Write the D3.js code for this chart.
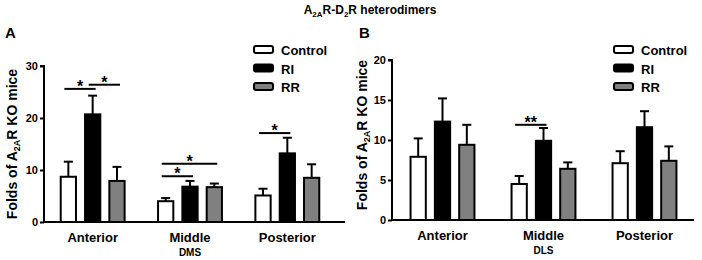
<!DOCTYPE html>
<html>
<head>
<meta charset="utf-8">
<script src="https://cdn.jsdelivr.net/npm/d3@7"></script>
<style>
  body { margin: 0; background: #fff; }
  svg { font-family: "Liberation Sans", Arial, sans-serif; font-weight: bold; }
</style>
</head>
<body>
<svg id="chart" width="702" height="260"></svg>
<script>
// categories and series
const groups = ["Anterior", "Middle", "Posterior"];
const seriesNames = ["Control", "RI", "RR"];
const seriesFill = ["#ffffff", "#000000", "#808080"];

// panel A (DMS) – mean and SEM per series, one value per group
const dmsControl = [8.7, 4.0, 5.1];
const dmsControlSem = [2.9, 0.6, 1.3];
const dmsRI = [20.7, 6.8, 13.2];
const dmsRISem = [3.6, 1.1, 3.0];
const dmsRR = [7.9, 6.7, 8.5];
const dmsRRSem = [2.7, 0.7, 2.6];
const dmsTicks = [0, 10, 20, 30];
// significance: [group, fromSeries, toSeries, yValue, label]
const dmsSig = [[0, 0, 1, 25.6, "*"], [0, 1, 2, 26.4, "*"], [1, 0, 1, 8.8, "*"], [1, 0, 2, 11.2, "*"], [2, 0, 1, 17.1, "*"]];

// panel B (DLS)
const dlsControl = [7.9, 4.5, 7.1];
const dlsControlSem = [2.3, 1.0, 1.5];
const dlsRI = [12.3, 9.9, 11.6];
const dlsRISem = [2.9, 1.6, 2.0];
const dlsRR = [9.4, 6.4, 7.4];
const dlsRRSem = [2.5, 0.8, 1.8];
const dlsTicks = [0, 5, 10, 15, 20];
const dlsSig = [[1, 0, 1, 11.9, "**"]];

const svg = d3.select("#chart");

// title with subscripts
const title = svg.append("text")
  .attr("x", 370).attr("y", 14)
  .attr("text-anchor", "middle")
  .attr("font-size", "12px");
title.append("tspan").text("A");
title.append("tspan").text("2A").attr("font-size", "8px").attr("dy", 3);
title.append("tspan").text("R-D").attr("dy", -3);
title.append("tspan").text("2").attr("font-size", "8px").attr("dy", 3);
title.append("tspan").text("R heterodimers").attr("dy", -3);

function drawPanel(p) {
  const g = svg.append("g");

  // panel letter
  g.append("text").attr("x", p.letterX).attr("y", 38)
    .attr("font-size", "15px").text(p.letter);

  const y = d3.scaleLinear().domain([0, p.ticks[p.ticks.length - 1]]).range([p.y0, p.yTop]);
  const x = d3.scaleBand().domain(groups).range([p.axisX, p.bandEnd]);
  const xs = d3.scaleBand().domain(seriesNames).range([-40, 40]).padding(0.29);

  const means = [p.control, p.ri, p.rr];
  const sems = [p.controlSem, p.riSem, p.rrSem];
  const rows = [];
  groups.forEach((grp, gi) => seriesNames.forEach((s, si) => {
    rows.push({ grp, s, si, v: means[si][gi], e: sems[si][gi] });
  }));
  const cx = d => x(d.grp) + x.bandwidth() / 2 + xs(d.s) + xs.bandwidth() / 2;

  // error bars (upward only)
  const err = g.selectAll(".err").data(rows).enter().append("g")
    .attr("stroke", "#000").attr("stroke-width", 2);
  err.append("line")
    .attr("x1", cx).attr("x2", cx)
    .attr("y1", d => y(d.v)).attr("y2", d => y(d.v + d.e));
  err.append("line")
    .attr("x1", d => cx(d) - 4.5).attr("x2", d => cx(d) + 4.5)
    .attr("y1", d => y(d.v + d.e)).attr("y2", d => y(d.v + d.e));

  // bars
  g.selectAll(".bar").data(rows).enter().append("rect")
    .attr("x", d => cx(d) - xs.bandwidth() / 2 + 1)
    .attr("width", xs.bandwidth() - 2)
    .attr("y", d => y(d.v))
    .attr("height", d => y(0) - y(d.v))
    .attr("fill", d => seriesFill[d.si])
    .attr("stroke", "#000").attr("stroke-width", 2);

  // y axis
  const yAxis = g.append("g")
    .attr("transform", `translate(${p.axisX},0)`)
    .call(d3.axisLeft(y).tickValues(p.ticks).tickSize(4).tickPadding(2));
  yAxis.select(".domain").attr("stroke-width", 2).attr("d", `M-4,${y(p.ticks[p.ticks.length - 1])}H0V${p.y0}`);
  yAxis.selectAll(".tick line").attr("stroke-width", 2);
  yAxis.selectAll("text").attr("font-size", "11px").attr("font-weight", "bold").attr("font-family", "Liberation Sans, Arial, sans-serif");

  // x axis line
  g.append("line")
    .attr("x1", p.axisX - 1).attr("x2", p.axisEnd)
    .attr("y1", p.y0).attr("y2", p.y0)
    .attr("stroke", "#000").attr("stroke-width", 2);

  // x labels
  g.selectAll(".xl").data(groups).enter().append("text")
    .attr("x", d => x(d) + x.bandwidth() / 2)
    .attr("y", p.y0 + 19.5)
    .attr("text-anchor", "middle").attr("font-size", "13px")
    .text(d => d);
  g.append("text")
    .attr("x", x("Middle") + x.bandwidth() / 2).attr("y", p.y0 + 33.5)
    .attr("text-anchor", "middle").attr("font-size", "10px")
    .text(p.region);

  // y label
  const yl = g.append("text")
    .attr("transform", `translate(${p.labelX},${p.labelY}) rotate(-90)`)
    .attr("text-anchor", "middle").attr("font-size", "14px");
  yl.append("tspan").text("Folds of A");
  yl.append("tspan").text("2A").attr("font-size", "9px").attr("dy", 3);
  yl.append("tspan").text("R KO mice").attr("dy", -3);

  // significance lines
  p.sig.forEach(([gi, a, b, v, lab]) => {
    const x1 = x(groups[gi]) + x.bandwidth() / 2 + xs(seriesNames[a]) + xs.bandwidth() / 2 - 4;
    const x2 = x(groups[gi]) + x.bandwidth() / 2 + xs(seriesNames[b]) + xs.bandwidth() / 2 + 3;
    g.append("line").attr("x1", x1).attr("x2", x2)
      .attr("y1", y(v)).attr("y2", y(v))
      .attr("stroke", "#000").attr("stroke-width", 2);
    g.append("text").attr("x", (x1 + x2) / 2).attr("y", y(v) + 3)
      .attr("text-anchor", "middle").attr("font-size", "16px").text(lab);
  });

  // legend
  const lg = g.selectAll(".lg").data(seriesNames).enter().append("g")
    .attr("transform", (d, i) => `translate(${p.legendX},${46 + i * 18.5})`);
  lg.append("rect").attr("x", 0).attr("y", 0).attr("width", 19).attr("height", 7)
    .attr("rx", 2)
    .attr("fill", (d, i) => seriesFill[i]).attr("stroke", "#000").attr("stroke-width", 2);
  lg.append("text").attr("x", 27).attr("y", 9).attr("font-size", "13px").text(d => d);
}

drawPanel({
  letter: "A", letterX: 5, region: "DMS",
  control: dmsControl, controlSem: dmsControlSem,
  ri: dmsRI, riSem: dmsRISem, rr: dmsRR, rrSem: dmsRRSem,
  ticks: dmsTicks, sig: dmsSig,
  y0: 222, yTop: 66, axisX: 44, bandEnd: 336, axisEnd: 345,
  labelX: 17, labelY: 144, legendX: 254
});

drawPanel({
  letter: "B", letterX: 359, region: "DLS",
  control: dlsControl, controlSem: dlsControlSem,
  ri: dlsRI, riSem: dlsRISem, rr: dlsRR, rrSem: dlsRRSem,
  ticks: dlsTicks, sig: dlsSig,
  y0: 220, yTop: 60, axisX: 392, bandEnd: 695, axisEnd: 694,
  labelX: 367, labelY: 135, legendX: 614
});
</script>
</body>
</html>
